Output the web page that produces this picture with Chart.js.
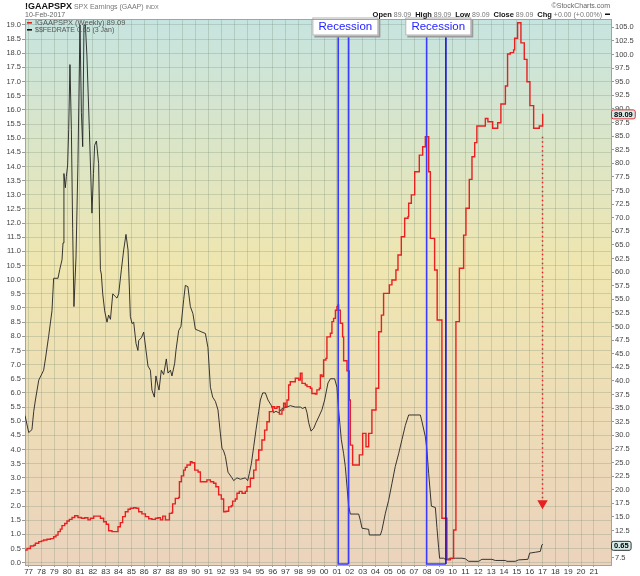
<!DOCTYPE html>
<html lang="en">
<head>
<meta charset="UTF-8">
<title>!GAAPSPX SPX Earnings (GAAP)</title>
<script src="https://cdn.jsdelivr.net/npm/chart.js"></script>
<style>
  html, body { margin: 0; padding: 0; background: #fff; }
  #wrap { position: relative; width: 640px; height: 576px; }
</style>
</head>
<body>
<div id="wrap"><canvas id="chart" width="640" height="576"></canvas></div>
<script>
// S&P 500 GAAP earnings, weekly (stepped), right axis
const gaapYears = [
  1976.72, 1976.88, 1977.14, 1977.40, 1977.53, 1977.79, 1978.00, 1978.17, 1978.43, 1978.70,
  1978.95, 1979.13, 1979.29, 1979.47, 1979.60, 1979.81, 1979.99, 1980.17, 1980.38, 1980.59,
  1980.84, 1981.11, 1981.37, 1981.62, 1981.81, 1982.07, 1982.59, 1982.84, 1983.05, 1983.23,
  1983.49, 1983.96, 1984.14, 1984.32, 1984.53, 1984.74, 1984.92, 1985.18, 1985.36, 1985.57,
  1985.82, 1986.09, 1986.35, 1986.60, 1986.87, 1987.07, 1987.26, 1987.44, 1987.65, 1987.96,
  1988.16, 1988.21, 1988.42, 1988.68, 1988.74, 1988.89, 1989.07, 1989.20, 1989.33, 1989.59,
  1989.72, 1989.93, 1990.19, 1990.37, 1990.88, 1991.15, 1991.40, 1991.58, 1991.79, 1992.00,
  1992.18, 1992.36, 1992.57, 1992.78, 1992.88, 1993.09, 1993.22, 1993.40, 1993.61, 1993.87,
  1994.00, 1994.26, 1994.52, 1994.70, 1994.91, 1995.16, 1995.37, 1995.55, 1995.74, 1996.00,
  1996.15, 1996.33, 1996.52, 1996.72, 1996.85, 1996.98, 1997.11, 1997.24, 1997.37, 1997.76,
  1998.02, 1998.15, 1998.28, 1998.54, 1998.67, 1998.93, 1999.05, 1999.32, 1999.44, 1999.63,
  1999.71, 1999.83, 1999.96, 2000.14, 2000.22, 2000.49, 2000.61, 2000.74, 2000.88, 2001.00,
  2001.08, 2001.13, 2001.26, 2001.44, 2001.52, 2001.78, 2001.96, 2002.04, 2002.22, 2002.74,
  2003.00, 2003.26, 2003.47, 2003.72, 2004.04, 2004.25, 2004.46, 2004.63, 2005.08, 2005.28,
  2005.59, 2005.75, 2006.01, 2006.27, 2006.53, 2006.58, 2006.79, 2007.05, 2007.41, 2007.67,
  2007.88, 2008.14, 2008.27, 2008.60, 2008.80, 2009.17, 2009.56, 2009.82, 2010.08, 2010.26,
  2010.53, 2010.86, 2011.04, 2011.30, 2011.51, 2011.72, 2011.89, 2012.55, 2012.75, 2013.12,
  2013.51, 2013.76, 2014.11, 2014.28, 2014.49, 2014.75, 2014.83, 2015.06, 2015.32, 2015.58,
  2015.79, 2016.02, 2016.31, 2016.75, 2017.01
];
const gaapValues = [
  8.9, 9.2, 9.65, 9.8, 10.15, 10.45, 10.6, 10.75, 10.9, 11.0,
  11.35, 11.65, 12.3, 12.75, 13.4, 13.8, 14.25, 14.55, 14.9, 15.2,
  14.9, 14.75, 14.85, 14.45, 14.75, 15.15, 14.75, 14.1, 13.65, 12.45,
  12.3, 13.2, 13.95, 15.05, 15.95, 16.4, 16.6, 16.7, 16.6, 15.95,
  15.55, 15.05, 14.65, 14.55, 14.75, 14.85, 14.45, 15.15, 14.45, 15.65,
  15.8, 17.4, 18.4, 18.6, 21.45, 22.55, 23.6, 24.1, 24.55, 25.15,
  24.95, 23.6, 23.25, 21.45, 21.8, 21.45, 21.2, 20.55, 19.05, 18.3,
  15.95, 16.05, 16.85, 17.05, 17.9, 18.3, 19.35, 19.7, 19.35, 19.7,
  20.55, 22.1, 23.6, 25.45, 27.3, 29.15, 30.95, 32.5, 34.35, 35.25,
  34.95, 35.25, 33.9, 34.65, 35.9, 35.25, 36.5, 39.25, 39.85, 40.5,
  40.15, 41.4, 39.55, 39.25, 38.95, 38.65, 37.7, 37.6, 38.35, 38.65,
  41.1, 40.8, 43.85, 44.15, 48.1, 48.75, 50.9, 51.5, 53.0, 53.65,
  53.95, 53.0, 50.6, 48.1, 43.7, 41.85, 36.5, 28.2, 24.55, 26.4,
  30.35, 27.9, 30.35, 34.65, 38.65, 49.05, 52.1, 56.1, 57.65, 58.55,
  60.4, 63.15, 66.5, 69.9, 70.2, 72.65, 74.2, 78.45, 81.5, 83.05,
  84.9, 78.45, 66.2, 60.4, 51.2, 14.75, 7.1, 7.4, 12.6, 50.9,
  60.7, 66.8, 71.75, 77.05, 81.2, 83.8, 86.85, 88.25, 87.65, 86.45,
  87.45, 90.9, 94.2, 100.1, 100.35, 100.85, 103.0, 105.85, 102.15, 99.1,
  95.0, 90.6, 86.45, 86.85, 89.09
];

// Fed funds rate, left axis
const fedYears = [
  1976.72, 1977.01, 1977.26, 1977.40, 1977.53, 1977.79, 1978.17, 1978.31, 1978.56, 1978.82,
  1978.95, 1979.29, 1979.42, 1979.60, 1979.68, 1979.75, 1979.86, 1979.94, 1980.04, 1980.12,
  1980.22, 1980.33, 1980.43, 1980.53, 1980.69, 1980.84, 1981.00, 1981.11, 1981.21, 1981.31,
  1981.42, 1981.54, 1981.73, 1981.93, 1982.05, 1982.14, 1982.28, 1982.45, 1982.59, 1982.66,
  1982.77, 1982.92, 1983.10, 1983.23, 1983.37, 1983.55, 1983.76, 1983.88, 1984.01, 1984.22,
  1984.40, 1984.58, 1984.74, 1984.92, 1985.05, 1985.18, 1985.36, 1985.51, 1985.57, 1985.78,
  1985.96, 1986.14, 1986.29, 1986.48, 1986.60, 1986.79, 1986.91, 1987.02, 1987.15, 1987.33,
  1987.51, 1987.72, 1987.85, 1988.04, 1988.16, 1988.37, 1988.47, 1988.68, 1988.86, 1989.07,
  1989.20, 1989.40, 1989.59, 1989.79, 1989.98, 1990.24, 1990.49, 1990.76, 1990.96, 1991.15,
  1991.33, 1991.54, 1991.74, 1991.93, 1992.05, 1992.18, 1992.32, 1992.52, 1992.83, 1992.96,
  1993.22, 1993.48, 1993.87, 1994.05, 1994.18, 1994.34, 1994.52, 1994.70, 1994.91, 1995.04,
  1995.22, 1995.43, 1995.63, 1995.90, 1996.07, 1996.25, 1996.46, 1996.72, 1997.11, 1997.37,
  1997.76, 1998.15, 1998.33, 1998.54, 1998.67, 1998.80, 1998.98, 1999.19, 1999.37, 1999.58,
  1999.83, 2000.04, 2000.30, 2000.49, 2000.82, 2001.00, 2001.13, 2001.34, 2001.52, 2001.65,
  2001.78, 2001.91, 2002.04, 2002.69, 2002.82, 2002.95, 2003.47, 2003.52, 2004.38, 2004.50,
  2004.77, 2005.02, 2005.28, 2005.54, 2005.80, 2006.06, 2006.32, 2006.58, 2007.49, 2007.61,
  2007.88, 2008.00, 2008.14, 2008.35, 2008.66, 2008.78, 2008.91, 2008.99, 2009.30, 2009.44,
  2009.82, 2010.21, 2010.73, 2010.99, 2011.25, 2012.03, 2012.28, 2013.06, 2013.33, 2014.11,
  2014.23, 2014.88, 2015.14, 2015.86, 2016.00, 2016.44, 2016.83, 2016.95, 2017.03
];
const fedValues = [
  5.2, 4.6, 4.7, 5.35, 5.75, 6.45, 6.8, 7.2, 8.0, 8.9,
  10.05, 10.05, 10.35, 10.7, 11.3, 13.75, 13.25, 13.65, 14.05, 15.3,
  17.6, 15.3, 11.8, 9.05, 10.8, 14.1, 19.0, 15.9, 14.7, 19.0,
  19.0, 17.9, 15.3, 12.35, 13.75, 14.75, 14.9, 14.1, 10.35, 10.2,
  9.5, 8.9, 8.5, 8.75, 8.6, 9.5, 9.4, 9.35, 9.5, 10.35,
  11.05, 11.6, 11.05, 8.7, 8.45, 8.5, 7.75, 7.5, 7.85, 7.95,
  8.15, 7.5, 6.95, 6.8, 6.1, 5.85, 6.6, 6.35, 6.1, 6.8,
  6.65, 7.2, 6.7, 6.8, 6.6, 7.05, 7.5, 8.2, 8.35, 9.3,
  9.8, 9.75, 9.05, 8.8, 8.25, 8.2, 8.15, 8.1, 7.6, 6.2,
  5.85, 5.7, 5.4, 4.55, 4.05, 3.95, 3.75, 3.2, 3.0, 2.9,
  3.0, 2.95, 3.0, 2.9, 3.15, 3.5, 4.1, 4.7, 5.35, 5.75,
  6.0, 6.0, 5.75, 5.55, 5.3, 5.35, 5.3, 5.45, 5.5, 5.55,
  5.5, 5.5, 5.45, 5.5, 5.3, 4.95, 4.65, 4.75, 4.95, 5.15,
  5.4, 5.75, 6.35, 6.5, 6.5, 6.2, 5.4, 4.35, 3.85, 3.4,
  2.7, 2.0, 1.72, 1.72, 1.5, 1.22, 1.18, 0.98, 0.98, 1.15,
  1.75, 2.2, 2.8, 3.4, 3.85, 4.35, 4.85, 5.22, 5.22, 5.0,
  4.45, 4.0, 3.15, 2.0, 1.95, 1.25, 0.55, 0.16, 0.16, 0.12,
  0.14, 0.16, 0.16, 0.14, 0.05, 0.05, 0.12, 0.12, 0.08, 0.08,
  0.05, 0.05, 0.1, 0.12, 0.34, 0.37, 0.4, 0.63, 0.65
];

// recession shading boxes (decimal years)
const recessionStarts = [2001.10, 2007.98];
const recessionEnds = [2001.90, 2009.48];

// dotted red arrow (right axis)
const arrowYears = [2017.0, 2017.0];
const arrowValues = [84.9, 17.5];

const gaapLast = 89.09;
const fedLast = 0.65;

// axis tick values
const yearTicks = [];
for (let y = 1977; y <= 2021; y++) yearTicks.push(y);
const leftTicks = [];
for (let i = 0; i <= 38; i++) leftTicks.push(i / 2);
const rightTicks = [];
for (let i = 3; i <= 42; i++) rightTicks.push(i * 2.5);

const FONT = "'Liberation Sans', Arial, sans-serif";
Chart.defaults.font.family = FONT;

const gridCol = 'rgba(120,140,115,0.28)';

const bgPlugin = {
  id: 'bg',
  beforeDraw(chart) {
    const { ctx, chartArea: a } = chart;
    ctx.save();
    ctx.fillStyle = '#fff';
    ctx.fillRect(0, 0, chart.width, chart.height);
    const g = ctx.createLinearGradient(0, a.top, 0, a.bottom);
    g.addColorStop(0, '#c6e4e0');
    g.addColorStop(0.45, '#efe6b0');
    g.addColorStop(0.62, '#eee0b4');
    g.addColorStop(1, '#ebd3bd');
    ctx.fillStyle = g;
    ctx.fillRect(a.left, a.top, a.right - a.left, a.bottom - a.top);
    ctx.restore();
  }
};

const recessionPlugin = {
  id: 'recession',
  afterDatasetsDraw(chart) {
    const { ctx, chartArea: a } = chart;
    const x = chart.scales.x;
    ctx.save();
    recessionStarts.forEach((s, i) => {
      const x0 = x.getPixelForValue(s);
      const x1 = x.getPixelForValue(recessionEnds[i]);
      ctx.lineWidth = 1.6;
      ctx.strokeStyle = '#3a3aff';
      ctx.beginPath();
      ctx.moveTo(x0, a.top + 14);
      ctx.lineTo(x0, a.bottom - 1);
      ctx.lineTo(x1, a.bottom - 1);
      ctx.stroke();
      ctx.strokeStyle = i === 1 ? '#1212c8' : '#3a3aff';
      ctx.beginPath();
      ctx.moveTo(x1, a.top + 14);
      ctx.lineTo(x1, a.bottom - 1);
      ctx.stroke();

      // label box
      const cx = (x0 + x1) / 2 + 2;
      const w = 66, h = 18;
      const bx = cx - w / 2, by = a.top - 1.5;
      ctx.fillStyle = '#9a9a9a';
      ctx.fillRect(bx + 2, by + 2, w, h);
      ctx.fillStyle = '#fff';
      ctx.fillRect(bx, by, w, h);
      ctx.lineWidth = 1;
      ctx.strokeStyle = '#b0b0b0';
      ctx.strokeRect(bx + 0.5, by + 0.5, w - 1, h - 1);
      ctx.fillStyle = '#2424ff';
      ctx.font = '11.5px ' + FONT;
      ctx.textAlign = 'center';
      ctx.textBaseline = 'middle';
      ctx.fillText('Recession', cx, by + h / 2 + 0.5);
    });
    ctx.restore();
  }
};

function tag(ctx, text, x, y, border) {
  ctx.font = 'bold 7.5px ' + FONT;
  const w = ctx.measureText(text).width + 5;
  const h = 9;
  ctx.fillStyle = '#d4ebe8';
  ctx.strokeStyle = border;
  ctx.lineWidth = 1;
  ctx.beginPath();
  ctx.roundRect(x + 0.5, y - h / 2 + 0.5, w, h, 2);
  ctx.fill();
  ctx.stroke();
  ctx.fillStyle = '#000';
  ctx.textAlign = 'left';
  ctx.textBaseline = 'middle';
  ctx.fillText(text, x + 3, y + 1);
}

// draws a run of [text, font, color] pieces left to right
function run(ctx, pieces, x, y) {
  pieces.forEach(p => {
    ctx.font = p[1];
    ctx.fillStyle = p[2];
    ctx.fillText(p[0], x, y);
    x += ctx.measureText(p[0]).width;
  });
  return x;
}

const headerPlugin = {
  id: 'header',
  afterDraw(chart) {
    const { ctx, chartArea: a } = chart;
    ctx.save();
    ctx.textBaseline = 'alphabetic';
    ctx.textAlign = 'left';

    // title block
    run(ctx, [
      ['!GAAPSPX', 'bold 9px ' + FONT, '#111'],
      [' SPX Earnings (GAAP) ', '7px ' + FONT, '#777'],
      ['INDX', '5.5px ' + FONT, '#777']
    ], 25, 8.5);
    ctx.font = '7px ' + FONT;
    ctx.fillStyle = '#666';
    ctx.fillText('10-Feb-2017', 25, 16.5);

    // right side
    ctx.textAlign = 'right';
    ctx.fillText('\u00A9StockCharts.com', 610, 8);
    ctx.textAlign = 'left';

    const B = 'bold 7.5px ' + FONT, N = '7px ' + FONT;
    const parts = [
      ['Open', B, '#111'], [' 89.09  ', N, '#777'], ['High', B, '#111'], [' 89.09  ', N, '#777'],
      ['Low', B, '#111'], [' 89.09  ', N, '#777'], ['Close', B, '#111'], [' 89.09  ', N, '#777'],
      ['Chg', B, '#111'], [' +0.00 (+0.00%) ', N, '#777']
    ];
    let total = 0;
    parts.forEach(p => { ctx.font = p[1]; total += ctx.measureText(p[0]).width; });
    run(ctx, parts, 604 - total, 17);
    ctx.fillStyle = '#111';
    ctx.fillRect(605, 13.5, 5, 1.5);

    // legend
    ctx.fillStyle = '#e82020';
    ctx.fillRect(27, 22, 5, 1.6);
    ctx.fillStyle = '#111';
    ctx.fillRect(27, 29, 5, 1.6);
    ctx.fillStyle = '#555';
    ctx.font = '7.5px ' + FONT;
    ctx.fillText('!GAAPSPX (Weekly) 89.09', 35, 25.2);
    ctx.font = '7px ' + FONT;
    ctx.fillText('$$FEDRATE 0.65 (3 Jan)', 35, 31.8);

    // plot frame top
    ctx.strokeStyle = '#9aa8a4';
    ctx.lineWidth = 1;
    ctx.beginPath();
    ctx.moveTo(a.left, a.top + 0.5);
    ctx.lineTo(a.right, a.top + 0.5);
    ctx.stroke();

    // last value tags
    tag(ctx, gaapLast.toFixed(2), a.right, chart.scales.y1.getPixelForValue(gaapLast), '#e03030');
    tag(ctx, fedLast.toFixed(2), a.right, chart.scales.y.getPixelForValue(fedLast) + 1, '#333');
    ctx.restore();
  }
};

const toPts = (xs, ys) => xs.map((x, i) => ({ x: x, y: ys[i] }));

new Chart(document.getElementById('chart'), {
  type: 'line',
  data: {
    datasets: [
      {
        label: '!GAAPSPX (Weekly)',
        data: toPts(gaapYears, gaapValues),
        yAxisID: 'y1',
        borderColor: '#e82020',
        borderWidth: 1.4,
        stepped: true,
        pointRadius: 0
      },
      {
        label: '$$FEDRATE',
        data: toPts(fedYears, fedValues),
        yAxisID: 'y',
        borderColor: '#222',
        borderWidth: 0.9,
        tension: 0,
        pointRadius: 0
      },
      {
        label: 'arrow',
        data: toPts(arrowYears, arrowValues),
        yAxisID: 'y1',
        borderColor: '#e82020',
        borderWidth: 1.5,
        borderDash: [1.5, 3],
        pointRadius: [0, 4.5],
        pointStyle: 'triangle',
        rotation: 180,
        pointBackgroundColor: '#e82020',
        pointBorderColor: '#e82020'
      }
    ]
  },
  options: {
    responsive: false,
    animation: false,
    events: [],
    layout: { padding: { top: 19, left: 0, right: 0, bottom: 0 }, autoPadding: false },
    plugins: { legend: { display: false }, tooltip: { enabled: false } },
    scales: {
      x: {
        type: 'linear',
        min: 1976.72,
        max: 2022.33,
        afterBuildTicks: s => { s.ticks = yearTicks.map(v => ({ value: v })); },
        afterFit: s => { s.height = 11; },
        ticks: {
          autoSkip: false,
          maxRotation: 0,
          padding: 0,
          color: '#333',
          font: { size: 8 },
          callback: v => String(v % 100).padStart(2, '0')
        },
        grid: { color: gridCol, tickLength: 2, tickColor: '#999' },
        border: { color: '#9aa8a4' }
      },
      y: {
        position: 'left',
        min: -0.08,
        max: 19.21,
        afterBuildTicks: s => { s.ticks = leftTicks.map(v => ({ value: v })); },
        afterFit: s => { s.width = 25; },
        ticks: {
          autoSkip: false,
          padding: 1,
          color: '#444',
          font: { size: 7.5 },
          callback: v => v.toFixed(1)
        },
        grid: { color: gridCol, tickLength: 3, tickColor: '#999' },
        border: { color: '#9aa8a4' }
      },
      y1: {
        position: 'right',
        min: 6.16,
        max: 106.53,
        afterBuildTicks: s => { s.ticks = rightTicks.map(v => ({ value: v })); },
        afterFit: s => { s.width = 29; },
        ticks: {
          autoSkip: false,
          padding: 1,
          color: '#444',
          font: { size: 7.5 },
          callback: v => v.toFixed(1)
        },
        grid: { drawOnChartArea: false, tickLength: 3, tickColor: '#999' },
        border: { color: '#9aa8a4' }
      }
    }
  },
  plugins: [bgPlugin, recessionPlugin, headerPlugin]
});
</script>
</body>
</html>
